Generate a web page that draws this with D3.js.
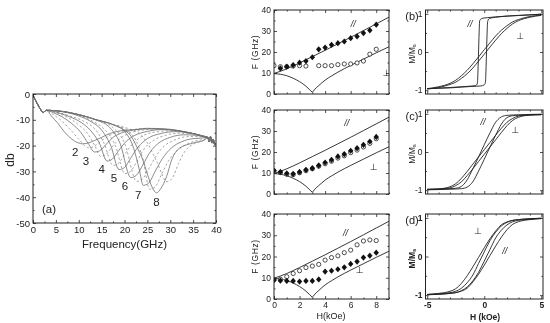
<!DOCTYPE html>
<html><head><meta charset="utf-8">
<script src="https://cdn.jsdelivr.net/npm/d3@7"></script>
<style>body{margin:0;background:#fff}svg{display:block;will-change:transform}text{-webkit-font-smoothing:antialiased}</style>
</head><body><script>
// ---------- Panel (a): reflection loss vs frequency ----------
const aStart = [[0,-0.5],[0.7,-3],[1.5,-5.5],[2.2,-7.2],[2.9,-6.3]];
const aTail = [[38.2,-16.8],[38.5,-18.4],[38.8,-16.6],[39.1,-19],[39.4,-17.6],[39.7,-19.6],[40,-19]];
const aCurves = [
 {dash:false, pts:[[4,-8.5],[5.5,-11.5],[7,-15],[8.5,-17.5],[10,-19],[10.8,-19.3],[12,-19],[13.5,-18],[15,-16.8],[17,-15.2],[19,-14.3],[22,-13.8],[26,-13.5],[30,-13.9],[34,-15],[37,-16.2]]},
 {dash:true,  pts:[[4,-7.5],[6,-10],[8,-13.5],[10,-17.5],[11.3,-20],[12.2,-20.9],[13.3,-20.3],[14.7,-18.5],[16.5,-16.3],[18.5,-14.8],[21,-14],[25,-13.4],[30,-13.8],[34,-15],[37,-16.2]]},
 {dash:false, pts:[[4.5,-7.3],[6.5,-9],[8.5,-11.5],[10.5,-15],[12,-19],[13.5,-22.5],[14.6,-22],[16,-19.5],[17.5,-16.8],[19.5,-15],[22,-14],[25,-13.3],[30,-13.7],[34,-15],[37,-16.2]]},
 {dash:true,  pts:[[5,-7.2],[7.5,-9],[10,-12],[12,-15.5],[13.5,-20],[14.8,-24.2],[15.9,-23.5],[17.3,-20.5],[19,-17.3],[21,-15.3],[24,-14],[28,-13.5],[32,-14.3],[35,-15.3],[37.2,-16.4]]},
 {dash:false, pts:[[5,-7],[8,-8.8],[10.5,-11],[12.5,-14],[14.5,-19],[16.2,-26],[17.3,-25.3],[18.7,-22],[20.3,-18.5],[22.3,-16],[25,-14.5],[28,-13.8],[32,-14.3],[35,-15.3],[37.2,-16.4]]},
 {dash:true,  pts:[[5,-7],[8,-8.5],[11,-10.5],[13.5,-13.5],[15.5,-19],[17.5,-27.7],[18.6,-27],[20,-23.5],[21.7,-19.5],[23.7,-16.5],[26.5,-14.8],[30,-14.3],[33,-14.8],[36,-15.8],[37.5,-16.6]]},
 {dash:false, pts:[[6.6,-6.9],[10,-8.5],[12.5,-10.5],[15,-14],[17,-20],[18.8,-29.3],[20,-28.5],[21.3,-25],[23,-20.5],[25,-17.3],[28,-15.3],[31,-14.6],[34,-15],[36.5,-16],[37.8,-16.8]]},
 {dash:true,  pts:[[6.6,-6.9],[10,-8.2],[13,-10.5],[15.5,-13.5],[18,-20],[20.1,-30.9],[21.3,-30],[22.6,-26.5],[24.2,-21.5],[26.3,-18],[29,-16],[32,-15.2],[35,-15.5],[37,-16.3]]},
 {dash:false, pts:[[6.6,-6.8],[10,-8],[13.9,-10.2],[16.5,-12.5],[19,-19],[21.4,-32.4],[22.6,-31.5],[24,-27.5],[25.6,-22.5],[27.5,-19],[30,-16.8],[33,-15.8],[35.5,-16],[37.5,-16.6]]},
 {dash:true,  pts:[[6.6,-6.8],[10,-8],[13.9,-10],[17,-12.3],[20,-19],[22.7,-33.9],[23.9,-33],[25.3,-29],[26.9,-24],[28.8,-20],[31,-17.8],[34,-16.5],[36.5,-16.5],[37.8,-16.8]]},
 {dash:false, pts:[[6.6,-6.8],[10,-8],[13.9,-10],[17.6,-12],[20,-14.5],[22,-21],[23.2,-29],[24.1,-35.4],[25.3,-34.5],[26.7,-30],[28.3,-25],[30.2,-21],[32.5,-18.5],[35,-17.3],[37.5,-17]]},
 {dash:true,  pts:[[6.6,-6.8],[10,-8],[13.9,-10],[17.6,-11.9],[20.5,-14],[22.5,-18],[24,-25],[25.5,-36.9],[26.7,-36],[28,-31.5],[29.6,-26],[31.5,-22],[33.8,-19.3],[36,-18],[37.8,-17.5]]},
 {dash:false, pts:[[6.6,-6.8],[10,-8],[13.9,-10],[17.6,-11.9],[20,-14],[21.5,-16.5],[22.7,-20.5],[24,-25.5],[25,-31],[26,-36],[27,-38.3],[28,-36.5],[29.2,-32],[30.3,-25.6],[32,-21],[35,-19],[37.5,-17.8]]},
 {dash:true,  pts:[[6.6,-6.8],[10,-8],[13.9,-10],[17.6,-11.9],[21,-13.5],[23,-15],[25,-19],[27,-26],[29.3,-34],[30.5,-32.5],[31.8,-27],[33.3,-22],[35.2,-19.3],[37.5,-17.8]]}
];
const aLabels = ["2","3","4","5","6","7","8"];
const aLabelPos = [[9.2,-22.5],[11.6,-26],[15,-29.2],[17.7,-32.5],[20.1,-35.7],[23,-39],[27,-42]];
const aXTicks = [0,5,10,15,20,25,30,35,40];
const aXMinor = [2.5,7.5,12.5,17.5,22.5,27.5,32.5,37.5];
const aYTicks = [-50,-40,-30,-20,-10,0];
const aYMinor = [-45,-35,-25,-15,-5];

// ---------- Middle panels: F vs H ----------
const fH = [0,0.5,1,1.5,2,2.5,3,3.5,4,4.5,5,5.5,6,6.5,7,7.5,8];
const fPar = [
 [null,12.2,13,13.8,14.9,15.7,17.5,21.3,22.1,23.4,24.2,25,26.6,27.4,29,30.3,33],
 [11.2,10.5,9.8,9.6,10.5,11.5,12.3,13.6,15,16.3,17.9,19,20.6,21.8,23.4,25,27.2],
 [8.9,8.6,8.5,8.5,8.2,8.5,8.5,9.2,12.9,13.3,14,14.9,16.5,17.6,19.5,20.4,21.8]
];
const fPerp = [
 [13.5,13,13,13.3,13.5,13.3,null,13.5,13.5,13.5,14,14.3,14.3,14.8,15.7,19,21.3],
 [11,10.2,9.4,9.2,10.1,11.1,12,13.2,14.4,15.6,17.1,18.2,19.7,20.9,22.4,24.1,26.3],
 [9,9.3,10.5,12,13.3,14.8,15.5,16.3,18.3,19.5,20.3,21.8,23,25.5,27.3,27.8,27.5]
];
const theoryPar = [[0,9.8],[0.5,10.8],[1,12],[2,14.8],[3,17.8],[4,20.8],[5,23.9],[6,27],[7,30.2],[8,33.4],[9,36.6]];
const theoryPerpL = [[0,9.7],[0.5,9.4],[1,8.7],[1.5,7.5],[2,5.9],[2.5,3.7],[2.8,2.0],[3,0.8]];
const theoryPerpR = [[3,0.8],[3.2,2.3],[3.5,4],[4,6.6],[4.5,8.6],[5,10.4],[6,13.6],[7,16.6],[8,19.6],[9,22.5]];
const fParLabel = [[6.2,33.3],[5.7,33.7],[5.6,31.2]];
const fPerpLabel = [[8.8,9.9],[7.8,13],[6.7,13.6]];
const fXTicks = [0,2,4,6,8], fXMinor = [1,3,5,7,9];
const fYTicks = [0,10,20,30,40], fYMinor = [5,15,25,35];

// ---------- Right panels: hysteresis loops ----------
const loops = [
 { // (b)
  parUpper:[[-5,-0.96],[-3,-0.93],[-1.5,-0.9],[-0.75,-0.88],[-0.6,-0.82],[-0.55,-0.5],[-0.5,0],[-0.45,0.5],[-0.4,0.82],[-0.2,0.88],[0.3,0.9],[1,0.92],[2,0.94],[3,0.955],[4,0.97],[5,0.99]],
  parLower:[[-5,-0.96],[-4,-0.95],[-3,-0.94],[-2,-0.92],[-1,-0.9],[-0.3,-0.89],[0,-0.86],[0.1,-0.8],[0.15,-0.5],[0.2,0],[0.25,0.5],[0.3,0.8],[0.45,0.88],[1,0.91],[2,0.94],[3,0.96],[5,0.99]],
  perpUpper:[[-5,-0.96],[-4,-0.91],[-3,-0.82],[-2.5,-0.74],[-2,-0.62],[-1.5,-0.48],[-1,-0.31],[-0.5,-0.13],[0,0.06],[0.5,0.24],[1,0.42],[1.5,0.57],[2,0.69],[2.5,0.79],[3,0.85],[4,0.93],[5,0.97]],
  perpLower:[[-5,-0.97],[-4,-0.93],[-3,-0.85],[-2.5,-0.79],[-2,-0.69],[-1.5,-0.57],[-1,-0.42],[-0.5,-0.24],[0,-0.06],[0.5,0.13],[1,0.31],[1.5,0.48],[2,0.62],[2.5,0.74],[3,0.82],[4,0.91],[5,0.96]]
 },
 { // (c)
  parUpper:[[-5,-0.98],[-3,-0.96],[-2.5,-0.95],[-2,-0.9],[-1.8,-0.85],[-1.5,-0.73],[-1,-0.44],[-0.5,-0.13],[0,0.19],[0.5,0.5],[1,0.78],[1.2,0.85],[1.5,0.92],[2,0.96],[3,0.975],[5,0.99]],
  parLower:[[-5,-0.99],[-3,-0.975],[-2,-0.96],[-1.5,-0.92],[-1.2,-0.85],[-1,-0.78],[-0.5,-0.5],[0,-0.19],[0.5,0.13],[1,0.44],[1.5,0.73],[1.8,0.85],[2,0.9],[2.5,0.95],[3,0.96],[5,0.98]],
  perpUpper:[[-5,-0.975],[-4,-0.965],[-3,-0.91],[-2.5,-0.83],[-2,-0.69],[-1.5,-0.51],[-1,-0.32],[-0.5,-0.13],[0,0.06],[0.5,0.25],[1,0.44],[1.5,0.62],[2,0.78],[2.5,0.88],[3,0.94],[4,0.972],[5,0.982]],
  perpLower:[[-5,-0.982],[-4,-0.972],[-3,-0.94],[-2.5,-0.88],[-2,-0.78],[-1.5,-0.62],[-1,-0.44],[-0.5,-0.25],[0,-0.06],[0.5,0.13],[1,0.32],[1.5,0.51],[2,0.69],[2.5,0.83],[3,0.91],[4,0.965],[5,0.975]]
 },
 { // (d)
  parUpper:[[-5,-0.98],[-4,-0.955],[-3,-0.9],[-2.5,-0.835],[-2,-0.695],[-1.5,-0.5],[-1,-0.27],[-0.5,-0.025],[0,0.225],[0.5,0.46],[1,0.66],[1.5,0.82],[2,0.895],[2.5,0.935],[3,0.955],[4,0.98],[5,0.99]],
  parLower:[[-5,-0.99],[-4,-0.98],[-3,-0.955],[-2.5,-0.935],[-2,-0.895],[-1.5,-0.82],[-1,-0.66],[-0.5,-0.46],[0,-0.225],[0.5,0.025],[1,0.27],[1.5,0.5],[2,0.695],[2.5,0.835],[3,0.9],[4,0.955],[5,0.98]],
  perpUpper:[[-5,-0.985],[-4,-0.965],[-3,-0.935],[-2.5,-0.9],[-2,-0.82],[-1.5,-0.68],[-1,-0.48],[-0.5,-0.18],[0,0.12],[0.5,0.41],[1,0.63],[1.5,0.79],[2,0.885],[2.5,0.935],[3,0.955],[4,0.975],[5,0.99]],
  perpLower:[[-5,-0.99],[-4,-0.975],[-3,-0.955],[-2.5,-0.935],[-2,-0.885],[-1.5,-0.79],[-1,-0.63],[-0.5,-0.41],[0,-0.12],[0.5,0.18],[1,0.48],[1.5,0.68],[2,0.82],[2.5,0.9],[3,0.935],[4,0.965],[5,0.985]]
 }
];
const loopNames = ["(b)","(c)","(d)"];
const loopParLabel = [[-1.25,0.74],[-0.1,0.78],[1.8,0.15]];
const loopPerpLabel = [[3.15,0.43],[2.7,0.57],[-0.55,0.65]];
const mXTicks = [-5,0,5], mXMinor = [-4,-3,-2,-1,1,2,3,4];
const mYTicks = [-1,0,1], mYMinor = [-0.5,0.5];

// ---------- drawing ----------
const FONT = '"Liberation Sans", Arial, Helvetica, sans-serif';
const SYMFONT = '"DejaVu Sans", sans-serif';
const INK = "#222";
const svg = d3.select("body").append("svg").attr("width",550).attr("height",323);

function framedAxes(x, y, o){
  const g = svg.append("g");
  const [x0,x1] = x.range(), [y0,y1] = y.range();
  const fmt = d => String(d);
  const add = (axis, pos, vals, size, labels) => {
    g.append("g").attr("transform", pos)
     .call(axis.tickValues(vals).tickSize(size).tickSizeOuter(0).tickPadding(o.pad||3).tickFormat(labels ? fmt : ""));
  };
  add(d3.axisBottom(x), `translate(0,${y0})`, o.xMajor, -3, o.xLabels);
  add(d3.axisBottom(x), `translate(0,${y0})`, o.xMinor, -1.6, false);
  add(d3.axisTop(x), `translate(0,${y1})`, o.xMajor, -3, false);
  add(d3.axisTop(x), `translate(0,${y1})`, o.xMinor, -1.6, false);
  add(d3.axisLeft(y), `translate(${x0},0)`, o.yMajor, -3, true);
  add(d3.axisLeft(y), `translate(${x0},0)`, o.yMinor, -1.6, false);
  add(d3.axisRight(y), `translate(${x1},0)`, o.yMajor, -3, false);
  add(d3.axisRight(y), `translate(${x1},0)`, o.yMinor, -1.6, false);
  g.selectAll(".domain").remove();
  g.selectAll("line").attr("stroke", INK).attr("stroke-width", 0.8);
  g.selectAll("text").attr("font-family", FONT).attr("font-size", o.fs).attr("fill", INK)
    .attr("font-weight", o.bold ? "bold" : null);
  g.append("rect").attr("x", x0).attr("y", y1).attr("width", x1-x0).attr("height", y0-y1)
    .attr("fill","none").attr("stroke", INK).attr("stroke-width", 1);
  return g;
}
function txt(x, y, s, fs, opt={}){
  const t = svg.append("text").attr("x", x).attr("y", y).attr("font-family", opt.font || FONT)
    .attr("font-size", fs).attr("fill", INK).attr("text-anchor", opt.anchor||"middle")
    .attr("dominant-baseline", "central");
  if (opt.rotate) t.attr("transform", `rotate(-90,${x},${y})`);
  if (opt.italic) t.attr("font-style","italic");
  if (opt.bold) t.attr("font-weight","bold");
  if (opt.ls) t.attr("letter-spacing", opt.ls);
  t.text(s);
  return t;
}
let clipId = 0;
function clip(x, y){
  const id = "c"+(clipId++);
  const [x0,x1] = x.range(), [y0,y1] = y.range();
  svg.append("clipPath").attr("id", id).append("rect")
    .attr("x", x0).attr("y", y1).attr("width", x1-x0).attr("height", y0-y1);
  return svg.append("g").attr("clip-path", `url(#${id})`);
}

// Panel (a)
{
  const x = d3.scaleLinear([0,40],[33,216]);
  const y = d3.scaleLinear([-50,0],[223,94]);
  const line = d3.line().x(d=>x(d[0])).y(d=>y(d[1])).curve(d3.curveMonotoneX);
  const g = clip(x,y);
  aCurves.forEach(c => {
    g.append("path").attr("d", line(aStart.concat(c.pts, aTail)))
      .attr("fill","none").attr("stroke", c.dash ? "#858585" : "#666")
      .attr("stroke-width", 0.75).attr("stroke-dasharray", c.dash ? "2.2,2.2" : null);
  });
  framedAxes(x, y, {xMajor:aXTicks, xMinor:aXMinor, yMajor:aYTicks, yMinor:aYMinor, xLabels:true, fs:9.5});
  aLabels.forEach((s,i) => txt(x(aLabelPos[i][0]), y(aLabelPos[i][1]), s, 11.5));
  txt(x(3.5), y(-44.5), "(a)", 11.5);
  txt(124.5, 244, "Frequency(GHz)", 11.5);
  txt(10, 160, "db", 12, {rotate:true});
}

// Middle panels
const midTops = [10,110,214], midBots = [94,194,299];
const diamond = r => `M0,${-r*1.15}L${r},0L0,${r*1.15}L${-r},0Z`;
for (let p=0; p<3; p++){
  const x = d3.scaleLinear([0,9],[274,389]);
  const y = d3.scaleLinear([0,40],[midBots[p], midTops[p]]);
  const line = d3.line().x(d=>x(d[0])).y(d=>y(d[1])).curve(d3.curveMonotoneX);
  const g = clip(x,y);
  [theoryPar, theoryPerpL, theoryPerpR].forEach(t =>
    g.append("path").attr("d", line(t)).attr("fill","none").attr("stroke", INK).attr("stroke-width", 0.9));
  const pts = arr => fH.map((h,i)=>[h,arr[i]]).filter(d=>d[1]!=null);
  g.selectAll(null).data(pts(fPerp[p])).join("circle")
    .attr("cx", d=>x(d[0])).attr("cy", d=>y(d[1])).attr("r", 2.1)
    .attr("fill","#fff").attr("stroke", INK).attr("stroke-width", 0.8);
  g.selectAll(null).data(pts(fPar[p])).join("path")
    .attr("transform", d=>`translate(${x(d[0])},${y(d[1])})`).attr("d", diamond(2.7))
    .attr("fill", "#111");
  framedAxes(x, y, {xMajor:fXTicks, xMinor:fXMinor, yMajor:fYTicks, yMinor:fYMinor, xLabels:p===2, fs:8.5});
  txt(x(fParLabel[p][0]), y(fParLabel[p][1]), "//", 9, {italic:true});
  txt(x(fPerpLabel[p][0]), y(fPerpLabel[p][1]), "\u22A5", 9, {font:SYMFONT});
  txt(255, (midTops[p]+midBots[p])/2, "F (GHz)", 8.5, {rotate:true, ls:"0.6px"});
}
txt(331, 316, "H(kOe)", 9);

// Right panels
for (let p=0; p<3; p++){
  const x = d3.scaleLinear([-5.15,5.15],[425.5,543]);
  const y = d3.scaleLinear([-1.1,1.1],[midBots[p], midTops[p]]);
  const line = d3.line().x(d=>x(d[0])).y(d=>y(d[1])).curve(d3.curveMonotoneX);
  const g = clip(x,y);
  const L = loops[p];
  [L.parUpper, L.parLower, L.perpUpper, L.perpLower].forEach(t =>
    g.append("path").attr("d", line(t)).attr("fill","none").attr("stroke", INK).attr("stroke-width", 0.9));
  framedAxes(x, y, {xMajor:mXTicks, xMinor:mXMinor, yMajor:mYTicks, yMinor:mYMinor, xLabels:p===2, fs:8.5, bold:p===2});
  txt(x(loopParLabel[p][0]), y(loopParLabel[p][1]), "//", 9, {italic:true});
  txt(x(loopPerpLabel[p][0]), y(loopPerpLabel[p][1]), "\u22A5", 9, {font:SYMFONT});
  txt(412, midTops[p] + 6, loopNames[p], 11);
  const cy = (midTops[p]+midBots[p])/2 + 2;
  const t = txt(412, cy, "", 8.5, {rotate:true, bold:p===2});
  t.append("tspan").text("M/M");
  t.append("tspan").attr("font-size", 6).attr("dy", 2).text("s");
}
txt(485, 317, "H (kOe)", 8.5, {bold:true});
</script></body></html>
